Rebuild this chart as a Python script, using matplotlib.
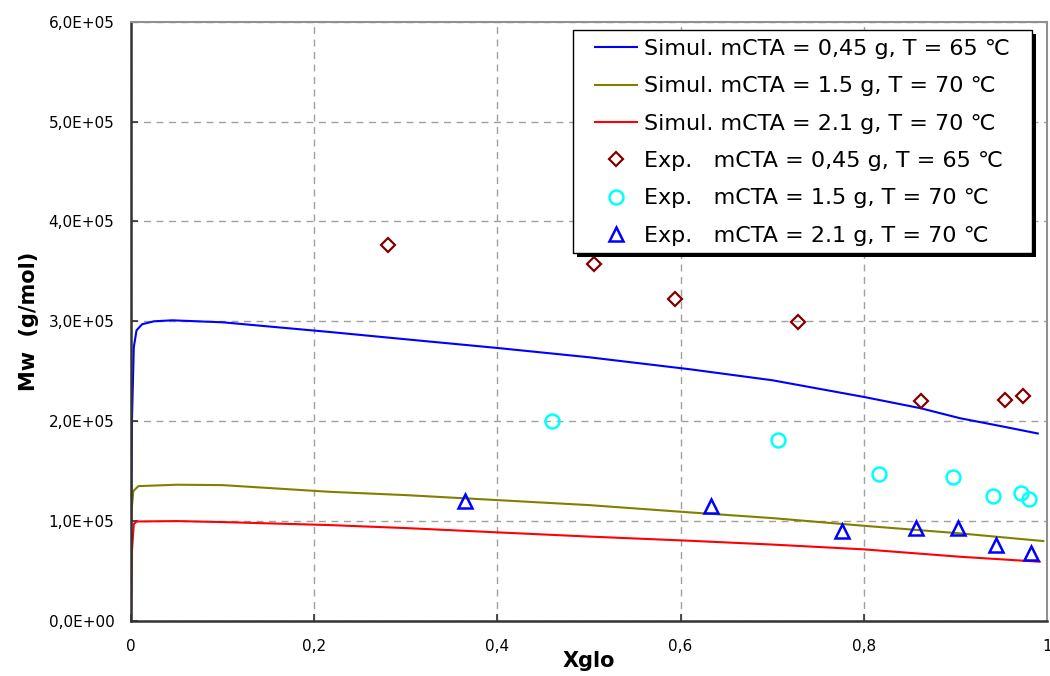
import matplotlib
matplotlib.use('Agg')
import matplotlib.pyplot as plt
from matplotlib.patches import Rectangle
from matplotlib.ticker import FuncFormatter, MultipleLocator

# simulated curves (Xglo, Mw)
sim_x_045 = [0, 0.001, 0.003, 0.006, 0.012, 0.025, 0.045, 0.1, 0.217, 0.3, 0.4, 0.5, 0.61, 0.7, 0.8, 0.862, 0.905, 0.95, 0.99]
sim_y_045 = [1.0e5, 2.0e5, 2.74e5, 2.91e5, 2.97e5, 3.0e5, 3.01e5, 2.99e5, 2.893e5, 2.82e5, 2.733e5, 2.64e5, 2.52e5, 2.41e5, 2.243e5, 2.13e5, 2.03e5, 1.95e5, 1.877e5]

sim_x_15 = [0, 0.001, 0.0025, 0.008, 0.05, 0.1, 0.217, 0.3, 0.4, 0.5, 0.61, 0.7, 0.8, 0.905, 0.996]
sim_y_15 = [0.9e5, 1.15e5, 1.30e5, 1.35e5, 1.364e5, 1.36e5, 1.293e5, 1.26e5, 1.21e5, 1.16e5, 1.087e5, 1.03e5, 0.953e5, 0.877e5, 0.80e5]

sim_x_21 = [0, 0.001, 0.003, 0.006, 0.05, 0.1, 0.217, 0.3, 0.4, 0.5, 0.61, 0.7, 0.8, 0.905, 0.992]
sim_y_21 = [0, 0.7e5, 0.97e5, 0.996e5, 1.0e5, 0.99e5, 0.96e5, 0.93e5, 0.887e5, 0.845e5, 0.803e5, 0.765e5, 0.717e5, 0.643e5, 0.593e5]

# experimental points
exp_x_045 = [0.281, 0.505, 0.594, 0.7285, 0.862, 0.954, 0.974]
exp_y_045 = [3.76e5, 3.577e5, 3.22e5, 2.993e5, 2.203e5, 2.21e5, 2.253e5]

exp_x_15 = [0.46, 0.706, 0.8166, 0.8977, 0.9406, 0.9716, 0.980]
exp_y_15 = [1.997e5, 1.807e5, 1.47e5, 1.437e5, 1.247e5, 1.277e5, 1.22e5]

exp_x_21 = [0.3646, 0.633, 0.776, 0.857, 0.903, 0.944, 0.9825]
exp_y_21 = [1.20e5, 1.15e5, 0.903e5, 0.927e5, 0.927e5, 0.76e5, 0.677e5]

fig = plt.figure(figsize=(10.5, 6.76), dpi=100)
ax = fig.add_axes([0.1248, 0.0814, 0.8723, 0.8866])

ax.plot(sim_x_045, sim_y_045, color='#0000ff', lw=1.5, label='Simul. mCTA = 0,45 g, T = 65 ℃')
ax.plot(sim_x_15, sim_y_15, color='#808000', lw=1.5, label='Simul. mCTA = 1.5 g, T = 70 ℃')
ax.plot(sim_x_21, sim_y_21, color='#ff0000', lw=1.5, label='Simul. mCTA = 2.1 g, T = 70 ℃')
ax.plot(exp_x_045, exp_y_045, 'D', ms=7, mfc='none', mec='#800000', mew=1.6, ls='none',
        label='Exp.   mCTA = 0,45 g, T = 65 ℃')
ax.plot(exp_x_15, exp_y_15, 'o', ms=10, mfc='none', mec='#00ffff', mew=1.8, ls='none',
        label='Exp.   mCTA = 1.5 g, T = 70 ℃')
ax.plot(exp_x_21, exp_y_21, '^', ms=10, mfc='none', mec='#0000ff', mew=1.8, ls='none',
        label='Exp.   mCTA = 2.1 g, T = 70 ℃')

ax.set_xlim(0, 1)
ax.set_ylim(0, 6e5)
ax.xaxis.set_major_locator(MultipleLocator(0.2))
ax.yaxis.set_major_locator(MultipleLocator(1e5))
ax.xaxis.set_major_formatter(FuncFormatter(
    lambda v, p: '%d' % round(v) if abs(v - round(v)) < 1e-9 else ('%.1f' % v).replace('.', ',')))
ax.yaxis.set_major_formatter(FuncFormatter(lambda v, p: ('%.1E' % v).replace('.', ',')))
ax.tick_params(direction='in', length=5, width=1.2, labelsize=11, color='#333333')
ax.tick_params(axis='y', pad=12)
ax.tick_params(axis='x', pad=13)
ax.grid(True, ls=(0, (5, 4)), color='#a0a0a0', lw=1)

for s in ['left', 'bottom']:
    ax.spines[s].set_color('#333333')
    ax.spines[s].set_linewidth(1.8)
for s in ['top', 'right']:
    ax.spines[s].set_color('#909090')
    ax.spines[s].set_linewidth(1.5)

ax.set_xlabel('Xglo', fontsize=15, fontweight='bold')
ax.xaxis.set_label_coords(0.5, -0.05)
ax.set_ylabel('Mw  (g/mol)', fontsize=15, fontweight='bold')
ax.yaxis.set_label_coords(-0.1004, 0.5)

# legend box with solid black shadow, Excel style
ax.add_patch(Rectangle((0.4865, 0.6070), 0.5016, 0.3723, transform=ax.transAxes,
                       facecolor='black', edgecolor='none', zorder=4, clip_on=False))
ax.add_patch(Rectangle((0.482, 0.6137), 0.5016, 0.3723, transform=ax.transAxes,
                       facecolor='white', edgecolor='black', lw=1, zorder=4.5, clip_on=False))
leg = ax.legend(loc='upper left', bbox_to_anchor=(0.5066, 0.971), fontsize=16,
                frameon=False, handlelength=1.9, labelspacing=0.78,
                borderpad=0, handletextpad=0.3, borderaxespad=0)
leg.set_zorder(5)

plt.savefig('out.png', dpi=100)
